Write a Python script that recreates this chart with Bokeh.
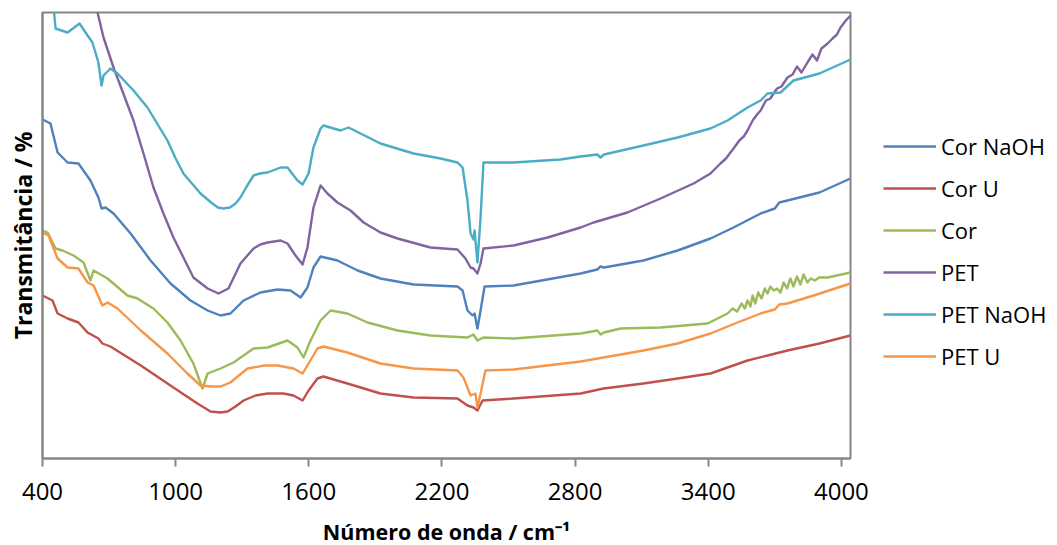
from bokeh.plotting import figure
from bokeh.models import Legend, LegendItem, FixedTicker
from bokeh.embed import file_html
from bokeh.resources import INLINE

# ---- data (wavenumber in cm-1, transmittance in arbitrary offset units) ----
series_names = ["Cor NaOH", "Cor U", "Cor", "PET", "PET NaOH", "PET U"]
series_colors = ["#4F81BD", "#C0504D", "#9BBB59", "#8064A2", "#4BACC6", "#F79646"]
x_ticks = [400, 1000, 1600, 2200, 2800, 3400, 4000]

cor_naoh_x = [400, 436, 468, 513, 562, 616, 652, 666, 684, 720, 797, 887, 977, 1067, 1144, 1202,
              1247, 1306, 1382, 1459, 1518, 1563, 1594, 1621, 1653, 1729, 1820, 1923,
              2072, 2270, 2293, 2315, 2338, 2347, 2360, 2374, 2392, 2523, 2825, 2900, 2915, 2930,
              3108, 3262, 3410, 3514, 3636, 3700, 3720, 3757, 3901, 4041]
cor_naoh_y = [339, 335, 306, 296, 295, 278, 261, 250, 251, 245, 225, 198, 175, 158, 148, 143,
              145, 158, 166, 169, 168, 161, 171, 191, 202, 198, 188, 180,
              174, 172, 168, 148, 143, 145, 130, 148, 172, 173, 185, 189, 192, 191,
              198, 208, 220, 231, 245, 250, 256, 258, 266, 280]

cor_u_x = [400, 445, 468, 513, 562, 603, 652, 670, 706, 843, 990, 1098, 1157, 1202, 1234, 1270,
           1306, 1360, 1414, 1486, 1531, 1572, 1599, 1639, 1666, 1774, 1923, 2072, 2270, 2315,
           2342, 2360, 2383, 2523, 2825, 2928, 3108, 3262, 3410, 3577, 3667, 3757, 3901, 4041]
cor_u_y = [163, 158, 145, 140, 136, 126, 120, 115, 112, 93, 71, 55, 47, 46, 47, 52,
           58, 63, 65, 65, 63, 58, 68, 80, 82, 75, 65, 61, 60, 53,
           51, 48, 58, 60, 65, 70, 75, 80, 85, 98, 103, 108, 115, 123]

cor_x = [400, 423, 459, 490, 540, 585, 616, 630, 693, 783, 828, 900, 963, 1022, 1080, 1121,
         1144, 1202, 1261, 1351, 1414, 1504, 1549, 1576, 1608, 1653, 1698, 1774, 1865, 2000,
         2148, 2315, 2342, 2360, 2387, 2523, 2825, 2900, 2915, 2930, 3005, 3185, 3397, 3487,
         3510, 3530, 3550, 3565, 3577, 3590, 3600, 3612, 3625, 3640, 3655, 3667, 3680, 3695,
         3710, 3725, 3740, 3755, 3770, 3784, 3800, 3815, 3830, 3847, 3862, 3880, 3900, 3938,
         4041]
cor_y = [228, 226, 210, 208, 203, 196, 178, 188, 180, 163, 160, 150, 136, 118, 95, 70,
         85, 90, 96, 110, 111, 118, 111, 101, 118, 138, 148, 145, 136, 128,
         123, 121, 124, 118, 121, 120, 125, 128, 124, 126, 130, 131, 135, 145,
         150, 147, 155, 150, 158, 152, 163, 155, 166, 160, 170, 165, 172, 168,
         170, 166, 176, 170, 180, 172, 182, 174, 184, 176, 180, 178, 181, 181,
         186]

pet_x = [600, 648, 675, 720, 810, 855, 900, 945, 990, 1035, 1080, 1144, 1193, 1238, 1292, 1351,
         1382, 1414, 1473, 1504, 1540, 1572, 1594, 1621, 1653, 1684, 1729, 1788, 1847,
         1923, 2000, 2148, 2270, 2306, 2329, 2342, 2360, 2374, 2387, 2523, 2676, 2825, 2883,
         3036, 3185, 3334, 3410, 3455, 3480, 3500, 3514, 3540, 3560, 3577, 3600, 3620, 3636,
         3660, 3680, 3694, 3710, 3730, 3757, 3780, 3800, 3820, 3847, 3870, 3890, 3910, 3938,
         3960, 3980, 3996, 4020, 4041]
pet_y = [600, 446, 421, 391, 338, 305, 271, 245, 221, 201, 181, 170, 165, 170, 195, 210,
         214, 216, 218, 215, 203, 194, 211, 251, 273, 265, 256, 248, 236,
         226, 220, 211, 209, 200, 191, 190, 185, 195, 210, 213, 221, 231, 236,
         246, 260, 275, 285, 295, 300, 306, 310, 318, 322, 328, 338, 344, 348,
         358, 360, 365, 370, 372, 381, 384, 392, 386, 396, 404, 398, 410, 415,
         420, 424, 431, 438, 443]

pet_naoh_x = [400, 452, 459, 513, 567, 603, 625, 652, 666, 675, 706, 738, 810, 873, 963, 1000,
              1035, 1112, 1160, 1190, 1216, 1245, 1270, 1292, 1320, 1351, 1380, 1414, 1473, 1504,
              1549, 1572, 1599, 1621, 1653, 1666, 1743, 1779, 1833, 1923, 2072, 2194, 2270, 2293,
              2315, 2329, 2342, 2347, 2360, 2374, 2387, 2523, 2734, 2825, 2900, 2915, 2930, 3108,
              3262, 3410, 3487, 3577, 3636, 3667, 3726, 3784, 3901, 4041]
pet_naoh_y = [620, 446, 430, 426, 435, 423, 416, 396, 373, 383, 390, 385, 368, 351, 318, 300,
              285, 265, 256, 251, 250, 251, 255, 261, 272, 283, 285, 286, 291, 291,
              278, 274, 285, 311, 330, 333, 328, 331, 325, 315, 305, 300, 296, 291,
              258, 225, 219, 228, 196, 241, 296, 296, 299, 302, 304, 301, 304, 313,
              321, 330, 338, 351, 358, 365, 366, 378, 385, 399]

pet_u_x = [400, 427, 468, 513, 562, 603, 630, 670, 693, 738, 843, 963, 1053, 1112, 1160, 1202,
           1247, 1290, 1324, 1400, 1459, 1531, 1572, 1599, 1639, 1666, 1774, 1923, 2072, 2270,
           2297, 2329, 2351, 2360, 2374, 2396, 2523, 2825, 2928, 3108, 3262, 3410, 3532, 3636,
           3700, 3720, 3757, 3875, 4041]
pet_u_y = [226, 223, 200, 191, 190, 176, 173, 153, 156, 150, 128, 105, 85, 73, 72, 72,
           76, 84, 90, 93, 93, 90, 85, 95, 110, 112, 106, 95, 90, 88,
           81, 63, 65, 51, 65, 88, 89, 97, 101, 108, 115, 125, 136, 145,
           149, 154, 155, 163, 175]

xs = [cor_naoh_x, cor_u_x, cor_x, pet_x, pet_naoh_x, pet_u_x]
ys = [cor_naoh_y, cor_u_y, cor_y, pet_y, pet_naoh_y, pet_u_y]

AX = "#868686"

p = figure(width=1057, height=545, frame_width=808, frame_height=446,
           x_range=(400, 4041), y_range=(0, 446),
           min_border_left=42, min_border_right=0, min_border_top=12, min_border_bottom=87,
           toolbar_location=None, output_backend="svg")
p.background_fill_color = "white"
p.border_fill_color = "white"
p.outline_line_color = AX
p.outline_line_width = 2
p.xgrid.visible = False
p.ygrid.visible = False

items = []
for name, col, x, y in zip(series_names, series_colors, xs, ys):
    r = p.line(x, y, line_color=col, line_width=2.4, line_join="round")
    items.append(LegendItem(label=name, renderers=[r]))

# x axis
xa = p.xaxis[0]
xa.ticker = FixedTicker(ticks=x_ticks)
xa.axis_line_color = AX
xa.axis_line_width = 2
xa.major_tick_line_color = AX
xa.major_tick_line_width = 2
xa.major_tick_out = 8
xa.major_tick_in = 0
xa.minor_tick_line_color = None
xa.major_label_text_font = "Open Sans"
xa.major_label_text_font_size = "24px"
xa.major_label_text_color = "black"
xa.major_label_standoff = 16
xa.axis_label = "Número de onda / cm⁻¹"
xa.axis_label_text_font = "Open Sans"
xa.axis_label_text_font_style = "bold"
xa.axis_label_text_font_size = "21.5px"
xa.axis_label_text_color = "black"
xa.axis_label_standoff = 14

# y axis
ya = p.yaxis[0]
ya.ticker = FixedTicker(ticks=[])
ya.axis_line_color = AX
ya.axis_line_width = 2
ya.major_tick_line_color = None
ya.minor_tick_line_color = None
ya.major_label_text_font_size = "0px"
ya.axis_label = "Transmitância / %"
ya.axis_label_text_font = "Open Sans"
ya.axis_label_text_font_style = "bold"
ya.axis_label_text_font_size = "23px"
ya.axis_label_text_color = "black"
ya.axis_label_standoff = 4

legend = Legend(items=items, location=(33, 87), orientation="vertical",
                glyph_width=53, glyph_height=20, label_height=20,
                label_standoff=5, spacing=12, padding=0, margin=0, border_line_color=None,
                background_fill_alpha=0,
                label_text_font="Open Sans", label_text_font_size="22px",
                label_text_color="black")
p.add_layout(legend, "right")

open("out.html", "w").write(file_html(p, INLINE))
